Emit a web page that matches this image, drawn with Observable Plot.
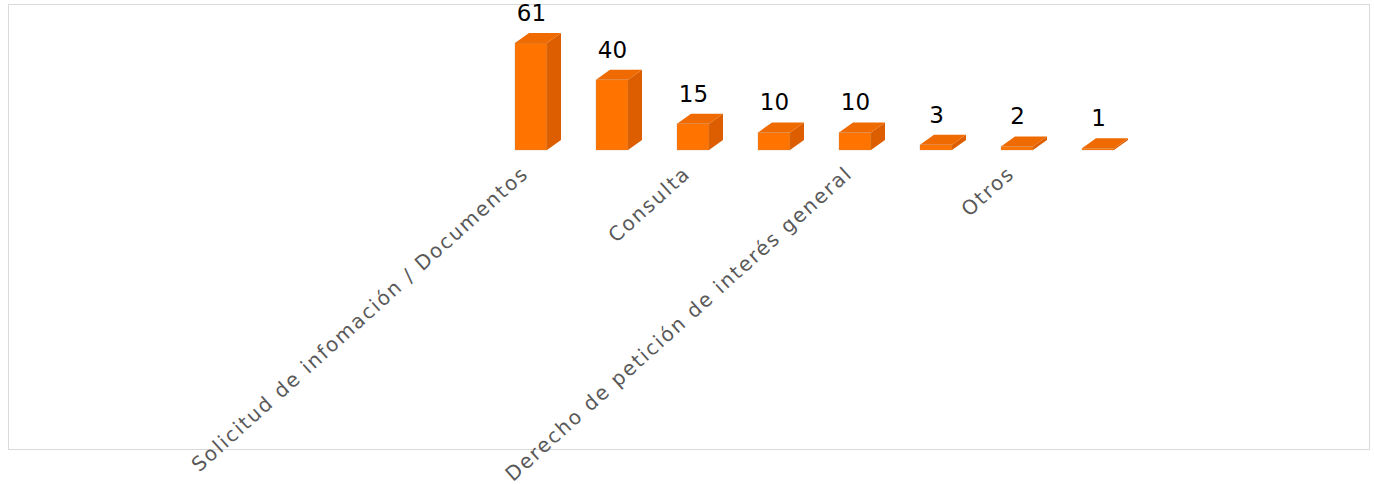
<!DOCTYPE html>
<html>
<head>
<meta charset="utf-8">
<script src="https://cdn.jsdelivr.net/npm/d3@7"></script>
<script src="https://cdn.jsdelivr.net/npm/@observablehq/plot@0.6"></script>
<style>
  html, body { margin: 0; padding: 0; background: #fff; }
  #wrap { position: relative; width: 1374px; height: 485px; overflow: hidden; font-family: "DejaVu Sans", sans-serif; }
  #frame { position: absolute; left: 8px; top: 4px; width: 1360px; height: 444px; border: 1px solid #d9d9d9; box-sizing: content-box; z-index: 0; }
  #chart { position: absolute; left: 0; top: 0; z-index: 1; }
</style>
</head>
<body>
<div id="wrap"><div id="frame"></div><div id="chart"></div></div>
<script>
const categories = [
  "Solicitud de infomación / Documentos",
  "Derecho de petición de interés particular",
  "Consulta",
  "Queja",
  "Derecho de petición de interés general",
  "Reclamo",
  "Otros",
  "Denuncia"
];
const values = [61, 40, 15, 10, 10, 3, 2, 1];
const shownLabels = categories.filter((d, i) => i % 2 === 0);

const data = categories.map((c, i) => ({cat: c, value: values[i]}));

const FRONT = "#ff7300", SIDE = "#dc5e00", TOP = "#ef6a00";
const DX = 14, DY = 10;

function depthFaces(index, scales) {
  const s = (scales && scales.x) ? scales : index;
  const x = s.x, y = s.y;
  const bw = typeof x.bandwidth === "function" ? x.bandwidth() : x.bandwidth;
  const g = d3.create("svg:g");
  data.forEach(d => {
    const x0 = x(d.cat), x1 = x0 + bw, yt = y(d.value), yb = y(0);
    g.append("polygon")
      .attr("points", [[x1, yb], [x1 + DX, yb - DY], [x1 + DX, yt - DY], [x1, yt]].map(p => p.join(",")).join(" "))
      .attr("fill", SIDE);
    g.append("polygon")
      .attr("points", [[x0, yt], [x0 + DX, yt - DY], [x1 + DX, yt - DY], [x1, yt]].map(p => p.join(",")).join(" "))
      .attr("fill", TOP);
  });
  return g.node();
}

const plot = Plot.plot({
  width: 1374,
  height: 485,
  marginLeft: 465,
  marginRight: 210,
  marginTop: 43,
  marginBottom: 335,
  style: {background: "transparent", fontFamily: "DejaVu Sans, sans-serif"},
  x: {domain: categories, padding: 0.6, axis: null},
  y: {domain: [0, d3.max(values)], axis: null},
  marks: [
    depthFaces,
    Plot.barY(data, {x: "cat", y: "value", fill: FRONT, stroke: "#b08a70", strokeOpacity: 0.35, strokeWidth: 0.8}),
    Plot.text(data, {x: "cat", y: "value", text: d => String(d.value), dy: -30, fontSize: 23, fill: "#000"}),
    Plot.text(data.filter(d => shownLabels.includes(d.cat)), {
      x: "cat", y: () => 0, text: "cat", rotate: -42, textAnchor: "end",
      dx: -6, dy: 20, fontSize: 20, fill: "#595959"
    })
  ]
});
plot.querySelectorAll("text").forEach(t => {
  if (shownLabels.includes(t.textContent)) t.style.letterSpacing = "1.8px";
});
document.getElementById("chart").appendChild(plot);
</script>
</body>
</html>
